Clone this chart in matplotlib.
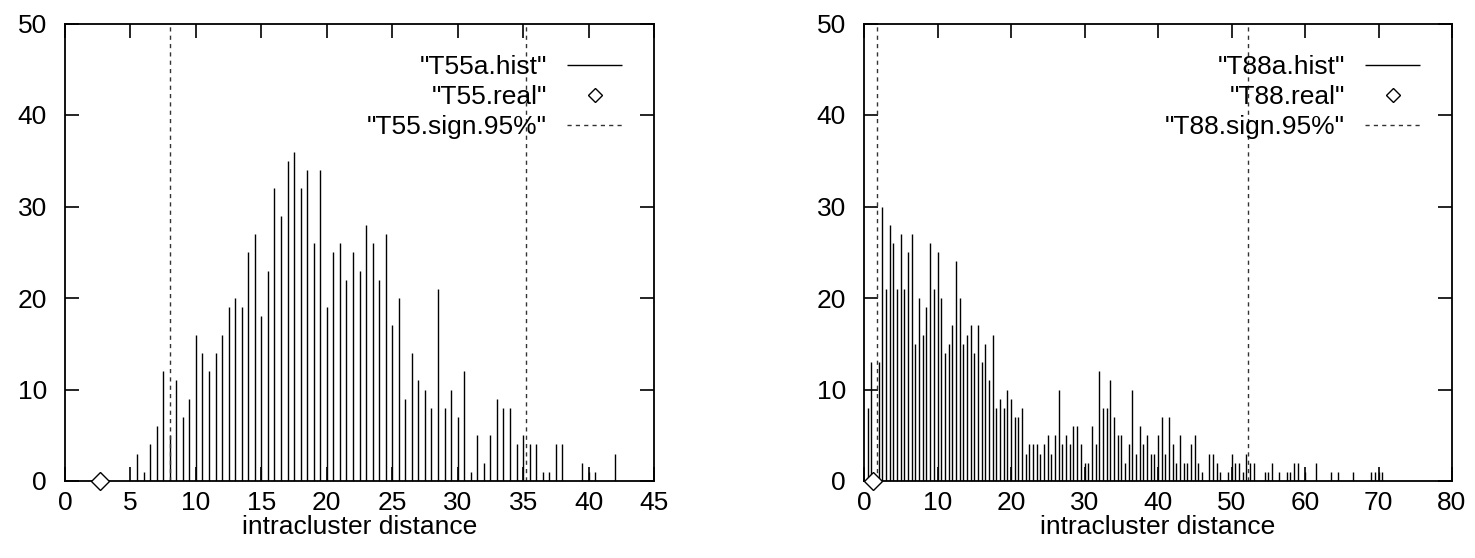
import numpy as np
import matplotlib.pyplot as plt

plt.rcParams['font.family'] = ['Liberation Sans', 'DejaVu Sans']
plt.rcParams['font.size'] = 19

# histogram bins are 0.5 wide; counts
t55_start = 5.5
t55_counts = [3, 1, 4, 6, 12, 5, 11, 7, 9, 16,
              14, 12, 14, 16, 19, 20, 19, 25, 27, 18,
              23, 32, 29, 35, 36, 32, 34, 26, 34, 19,
              25, 26, 22, 25, 23, 28, 26, 22, 27, 17,
              20, 9, 14, 11, 10, 8, 21, 8, 10, 7,
              12, 1, 5, 2, 5, 9, 8, 8, 4, 5,
              4, 4, 1, 1, 4, 4, 0, 0, 2, 1,
              1, 0, 0, 3]
t55_real = 2.67
t55_sign = [8.0, 35.25]

t88_start = 0.5
t88_counts = [8, 13, 0, 13, 30, 21, 28, 26, 21, 27,
              21, 25, 27, 15, 20, 16, 19, 26, 21, 25,
              20, 14, 15, 17, 24, 20, 15, 16, 17, 14,
              17, 13, 15, 11, 16, 8, 9, 8, 10, 9,
              7, 7, 8, 3, 4, 4, 4, 3, 4, 5,
              3, 5, 10, 4, 5, 4, 6, 6, 4, 2,
              2, 6, 4, 12, 8, 8, 11, 7, 5, 5,
              2, 4, 10, 3, 6, 4, 5, 3, 3, 5,
              7, 3, 7, 4, 2, 5, 2, 2, 4, 5,
              2, 1, 0, 3, 3, 2, 1, 0, 1, 3,
              2, 2, 1, 3, 2, 2, 0, 0, 1, 1,
              2, 0, 1, 0, 1, 1, 2, 2, 0, 1,
              0, 0, 2, 0, 0, 0, 1, 0, 1, 0,
              0, 0, 1, 0, 0, 0, 0, 1, 1, 1,
              1]
t88_real = 1.2
t88_sign = [1.75, 52.2]

bin_width = 0.5


def draw_panel(ax, name, start, counts, real, sign, xmax, xstep):
    x = start + bin_width * np.arange(len(counts))
    ax.vlines(x, 0, counts, colors='black', lw=1.0, label='"%sa.hist"' % name)
    ax.plot([real], [0], linestyle='none', marker='D', ms=9, mfc='white',
            mec='black', mew=1.0, clip_on=False, zorder=5,
            label='"%s.real"' % name)
    for i, s in enumerate(sign):
        ax.axvline(s, color='#333333', lw=1.0, linestyle=(0, (3, 3)),
                   label='"%s.sign.95%%"' % name if i == 0 else None)
    ax.set_xlim(0, xmax)
    ax.set_ylim(0, 50)
    ax.set_xticks(np.arange(0, xmax + 1, xstep))
    ax.set_yticks(np.arange(0, 51, 10))
    ax.tick_params(direction='in', top=True, right=True, length=10, width=1.2)
    ax.tick_params(axis='x', pad=7)
    ax.tick_params(axis='y', pad=13)
    for sp in ax.spines.values():
        sp.set_linewidth(1.3)
    ax.set_xlabel('intracluster distance', labelpad=0)
    leg = ax.legend(loc='upper right', frameon=False, markerfirst=False,
                    handlelength=2.1, labelspacing=0.22, borderaxespad=0.8,
                    handletextpad=0.75, markerscale=0.75)
    return leg


fig = plt.figure(figsize=(14.75, 5.58), dpi=100)
ax1 = fig.add_axes([65 / 1475, 1 - 481 / 558, 589 / 1475, 457.5 / 558])
ax2 = fig.add_axes([864 / 1475, 1 - 481 / 558, 588 / 1475, 457.5 / 558])

draw_panel(ax1, 'T55', t55_start, t55_counts, t55_real, t55_sign, 45, 5)
draw_panel(ax2, 'T88', t88_start, t88_counts, t88_real, t88_sign, 80, 10)

fig.savefig('out.png', dpi=100)
